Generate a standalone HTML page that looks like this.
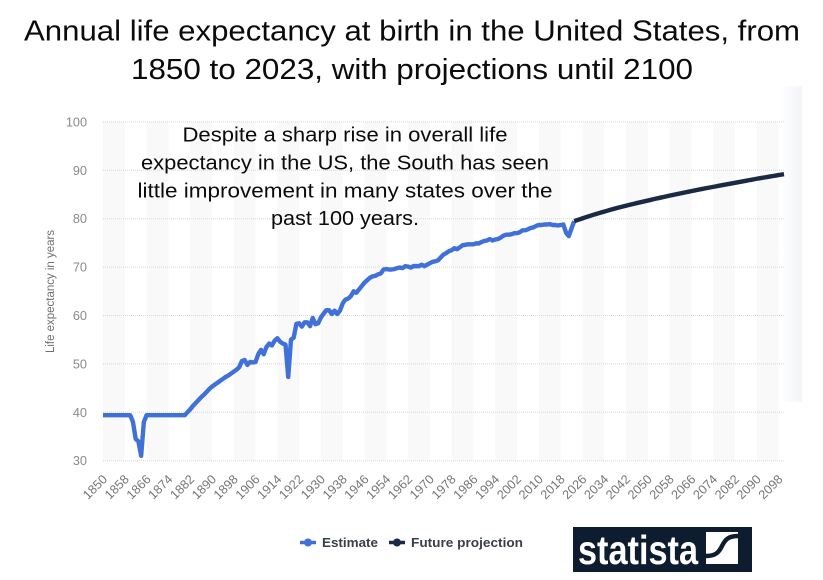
<!DOCTYPE html>
<html lang="en">
<head>
<meta charset="utf-8">
<title>Annual life expectancy at birth in the United States</title>
<style>
html,body{margin:0;padding:0;background:#fff;}
body{width:823px;height:580px;overflow:hidden;position:relative;font-family:"Liberation Sans",sans-serif;}
svg{position:absolute;left:0;top:0;display:block;}
</style>
</head>
<body>
<svg id="chart" width="823" height="580" viewBox="0 0 823 580" xmlns="http://www.w3.org/2000/svg">
  <defs>
    <linearGradient id="fade" x1="0" x2="1" y1="0" y2="0">
      <stop offset="0" stop-color="#f5f6f8" stop-opacity="0"/>
      <stop offset="1" stop-color="#f3f4f7" stop-opacity="1"/>
    </linearGradient>
  </defs>
  <rect x="780" y="86" width="22" height="316" fill="url(#fade)"/>
  <g id="bands"></g>
  <g id="grid"></g>
  <g id="yticks"></g>
  <g id="xticks"></g>
  <g id="series"></g>
  <text transform="translate(54,353) rotate(-90)" font-family="'Liberation Sans',sans-serif" font-size="11.5" fill="#6f6f6f" textLength="123" lengthAdjust="spacingAndGlyphs">Life expectancy in years</text>

  <g font-family="'Liberation Sans',sans-serif" font-size="29" fill="#0b0b0b" text-anchor="middle">
    <text x="412" y="40.5" textLength="776" lengthAdjust="spacingAndGlyphs">Annual life expectancy at birth in the United States, from</text>
    <text x="412" y="79" textLength="562" lengthAdjust="spacingAndGlyphs">1850 to 2023, with projections until 2100</text>
  </g>
  <g font-family="'Liberation Sans',sans-serif" font-size="20.5" fill="#0b0b0b" text-anchor="middle">
    <text x="345" y="141.7" textLength="325" lengthAdjust="spacingAndGlyphs">Despite a sharp rise in overall life</text>
    <text x="345" y="169.3" textLength="408" lengthAdjust="spacingAndGlyphs">expectancy in the US, the South has seen</text>
    <text x="345" y="197.5" textLength="415" lengthAdjust="spacingAndGlyphs">little improvement in many states over the</text>
    <text x="345" y="225" textLength="148" lengthAdjust="spacingAndGlyphs">past 100 years.</text>
  </g>

  <g font-family="'Liberation Sans',sans-serif" font-size="12.5" font-weight="bold" fill="#3a3f47">
    <g>
      <line x1="300" y1="542.5" x2="316" y2="542.5" stroke="#4071d8" stroke-width="3.5"/>
      <circle cx="308" cy="542.5" r="4" fill="#4071d8"/>
      <text x="322" y="547" textLength="56" lengthAdjust="spacingAndGlyphs">Estimate</text>
    </g>
    <g>
      <line x1="389" y1="542.5" x2="405" y2="542.5" stroke="#1a2a44" stroke-width="3.5"/>
      <circle cx="397" cy="542.5" r="4" fill="#1a2a44"/>
      <text x="411" y="547" textLength="112" lengthAdjust="spacingAndGlyphs">Future projection</text>
    </g>
  </g>

  <g>
    <rect x="573" y="527" width="179" height="45" fill="#0d1c2e"/>
    <text x="578" y="564" font-family="'Liberation Sans',sans-serif" font-weight="bold" font-size="41" fill="#fff" textLength="120" lengthAdjust="spacingAndGlyphs">statista</text>
    <rect x="706" y="532" width="32" height="32" fill="#fff"/>
    <path d="M706 556 C716 556 719 552 722 546 C725 540 728 536 738 536" fill="none" stroke="#0d1c2e" stroke-width="4.5"/>
  </g>
</svg>
<script>
const estimateYears = [];
for (let yr = 1850; yr <= 2023; yr++) estimateYears.push(yr);
const estimateValues = [
  39.4,39.4,39.4,39.4,39.4,39.4,39.4,39.4,39.4,39.4,
  39.4,38.0,34.5,34.0,31.0,38.0,39.4,39.4,39.4,39.4,
  39.4,39.4,39.4,39.4,39.4,39.4,39.4,39.4,39.4,39.4,
  39.4,40.0,40.6,41.3,41.9,42.5,43.1,43.6,44.2,44.8,
  45.3,45.7,46.1,46.5,46.9,47.3,47.6,48.0,48.4,48.8,
  49.3,50.6,50.8,49.8,50.4,50.3,50.4,52.0,52.9,52.0,
  53.5,54.2,53.8,54.8,55.3,54.6,54.2,54.0,47.3,55.0,
  55.4,58.3,58.4,57.7,58.6,58.6,57.8,59.5,58.2,58.4,
  59.6,60.4,61.1,61.1,60.3,61.0,60.3,61.0,62.5,63.3,
  63.5,64.0,65.0,64.7,65.4,66.1,66.8,67.3,67.8,68.1,
  68.2,68.5,68.7,69.5,69.6,69.5,69.5,69.6,69.8,69.9,
  69.8,70.2,70.1,69.9,70.2,70.2,70.2,70.5,70.2,70.5,
  70.8,71.1,71.2,71.4,72.0,72.6,72.9,73.3,73.5,73.9,
  73.7,74.1,74.5,74.6,74.7,74.7,74.7,74.9,74.9,75.2,
  75.4,75.5,75.8,75.5,75.7,75.8,76.1,76.5,76.7,76.7,
  76.8,77.0,77.0,77.2,77.6,77.6,77.8,78.1,78.2,78.5,
  78.7,78.7,78.8,78.8,78.9,78.7,78.7,78.6,78.7,78.8,
  77.1,76.4,78.0,79.5
];
const projectionYears = [];
for (let yr = 2023; yr <= 2100; yr++) projectionYears.push(yr);
const projectionValues = [
  79.50,79.69,79.88,80.07,80.26,80.44,80.62,80.80,
  80.97,81.14,81.31,81.47,81.63,81.79,81.95,82.10,82.25,82.40,
  82.54,82.68,82.82,82.96,83.09,83.23,83.36,83.49,83.62,83.75,
  83.88,84.01,84.14,84.26,84.39,84.51,84.64,84.76,84.88,85.00,
  85.12,85.24,85.35,85.47,85.58,85.70,85.81,85.93,86.04,86.15,
  86.26,86.37,86.47,86.58,86.68,86.79,86.89,87.00,87.10,87.20,
  87.31,87.41,87.52,87.62,87.73,87.83,87.94,88.04,88.15,88.25,
  88.35,88.44,88.54,88.63,88.73,88.82,88.92,89.01,89.11,89.20
];
const yTickValues = [30,40,50,60,70,80,90,100];
const xTickLabels = [1850,1858,1866,1874,1882,1890,1898,1906,1914,1922,1930,1938,1946,1954,1962,1970,1978,1986,1994,2002,2010,2018,2026,2034,2042,2050,2058,2066,2074,2082,2090,2098];

const NS = 'http://www.w3.org/2000/svg';
const plot = {left:103, right:784, top:121.9, bottom:460.7, yMin:30, yMax:100, xMin:1850, xMax:2100};
function xScale(yr){ return plot.left + (yr - plot.xMin) * (plot.right - plot.left) / (plot.xMax - plot.xMin); }
function yScale(v){ return plot.bottom - (v - plot.yMin) * (plot.bottom - plot.top) / (plot.yMax - plot.yMin); }
function make(tag, attrs, parent){
  const el = document.createElementNS(NS, tag);
  for (const k in attrs) el.setAttribute(k, attrs[k]);
  parent.appendChild(el);
  return el;
}
const bandsG = document.getElementById('bands');
const gridG = document.getElementById('grid');
const yG = document.getElementById('yticks');
const xG = document.getElementById('xticks');
const seriesG = document.getElementById('series');

xTickLabels.forEach(function(yr, i){
  if (i % 2 === 0) {
    const band = make('rect', {x:xScale(yr), y:plot.top, width:xScale(yr + 8) - xScale(yr), height:plot.bottom - plot.top, fill:'#f9f9fa'}, bandsG);
    
    
  }
  const t = make('text', {transform:'translate(' + (xScale(yr) + 5) + ',480) rotate(-45)', 'text-anchor':'end', 'font-family':"'Liberation Sans',sans-serif", 'font-size':'12.7', fill:'#777'}, xG);
  
  
  t.textContent = yr;
});

yTickValues.forEach(function(v){
  const g = make('line', {x1:plot.left, x2:plot.right, y1:yScale(v), y2:yScale(v), stroke:'#d8d8d8', 'stroke-width':'1', 'stroke-dasharray':'1 1'}, gridG);
  
  
  const t = make('text', {x:87, y:yScale(v) + 4.5, 'text-anchor':'end', 'font-family':"'Liberation Sans',sans-serif", 'font-size':'12.7', fill:'#8a8a8a'}, yG);
  
  
  t.textContent = v;
});

function linePoints(years, values){
  return values.map(function(v, i){ return xScale(years[i]).toFixed(2) + ',' + yScale(v).toFixed(2); }).join(' ');
}
const estimateLine = make('polyline', {points:linePoints(estimateYears, estimateValues), fill:'none', stroke:'#4071d8', 'stroke-width':'4.4', 'stroke-linejoin':'round'}, seriesG);


const projectionLine = make('polyline', {points:linePoints(projectionYears, projectionValues), fill:'none', stroke:'#1a2a44', 'stroke-width':'4.4', 'stroke-linejoin':'round'}, seriesG);


</script>
</body>
</html>
